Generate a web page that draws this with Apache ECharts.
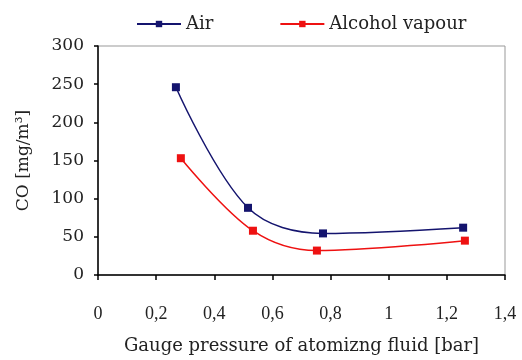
<!DOCTYPE html>
<html><head><meta charset="utf-8">
<script src="https://cdn.jsdelivr.net/npm/echarts@6/dist/echarts.min.js"></script>
<style>html,body{margin:0;padding:0;background:#fff}#c{width:522px;height:360px}</style>
</head><body><div id="c"></div>
<script>
const seriesNames = ['Air', 'Alcohol vapour'];
const airX = [0.268, 0.516, 0.774, 1.256];
const airY = [246, 88, 54.5, 62];
const vapX = [0.285, 0.533, 0.753, 1.262];
const vapY = [153, 58, 32, 45];
const xTicks = [0, 0.2, 0.4, 0.6, 0.8, 1, 1.2, 1.4];
const yTicks = [0, 50, 100, 150, 200, 250, 300];
const xTitle = 'Gauge pressure of atomizng fluid [bar]';
const yTitle = 'CO [mg/m³]';

const serif = 'Liberation Serif';
const wide = 'DejaVu Serif';
const chart = echarts.init(document.getElementById('c'), null, {renderer: 'canvas'});
const pairs = (xs, ys) => xs.map((x, i) => [x, ys[i]]);
chart.setOption({
  animation: false,
  backgroundColor: '#fff',
  textStyle: {fontFamily: serif},
  legend: {
    top: 10, left: 131,
    itemWidth: 44, itemHeight: 8, itemGap: 66,
    textStyle: {fontFamily: wide, fontSize: 18, color: '#222'},
    data: seriesNames
  },
  grid: {left: 98, right: 17, top: 46, bottom: 83, show: true, borderColor: '#999', borderWidth: 1},
  xAxis: {
    type: 'value', min: xTicks[0], max: xTicks[xTicks.length - 1], interval: 0.2,
    name: xTitle, nameLocation: 'middle', nameGap: 62,
    nameTextStyle: {fontFamily: wide, fontSize: 18, color: '#222'},
    axisLine: {lineStyle: {color: '#000', width: 1.5}},
    axisTick: {show: true, length: 5, lineStyle: {color: '#000', width: 1.5}},
    axisLabel: {fontFamily: serif, fontSize: 18, color: '#222', margin: 30,
      formatter: v => String(+v.toFixed(1)).replace('.', ',')},
    splitLine: {show: false}
  },
  yAxis: {
    type: 'value', min: yTicks[0], max: yTicks[yTicks.length - 1], interval: 50,
    name: yTitle, nameLocation: 'middle', nameGap: 66, nameRotate: 90,
    nameTextStyle: {fontFamily: wide, fontSize: 17, color: '#222'},
    axisLine: {show: true, lineStyle: {color: '#000', width: 1.5}},
    axisTick: {show: true, length: 4, lineStyle: {color: '#000', width: 1.5}},
    axisLabel: {fontFamily: wide, fontSize: 17, color: '#222', margin: 14},
    splitLine: {show: false}
  },
  series: [
    {name: seriesNames[0], type: 'line', data: pairs(airX, airY), smooth: 0.35,
     symbol: 'rect', symbolSize: 8, color: '#14146e',
     lineStyle: {width: 1.5, color: '#14146e'}, itemStyle: {color: '#14146e'}},
    {name: seriesNames[1], type: 'line', data: pairs(vapX, vapY), smooth: 0.35,
     symbol: 'rect', symbolSize: 8, color: '#ee1111',
     lineStyle: {width: 1.5, color: '#ee1111'}, itemStyle: {color: '#ee1111'}}
  ]
});
</script></body></html>
